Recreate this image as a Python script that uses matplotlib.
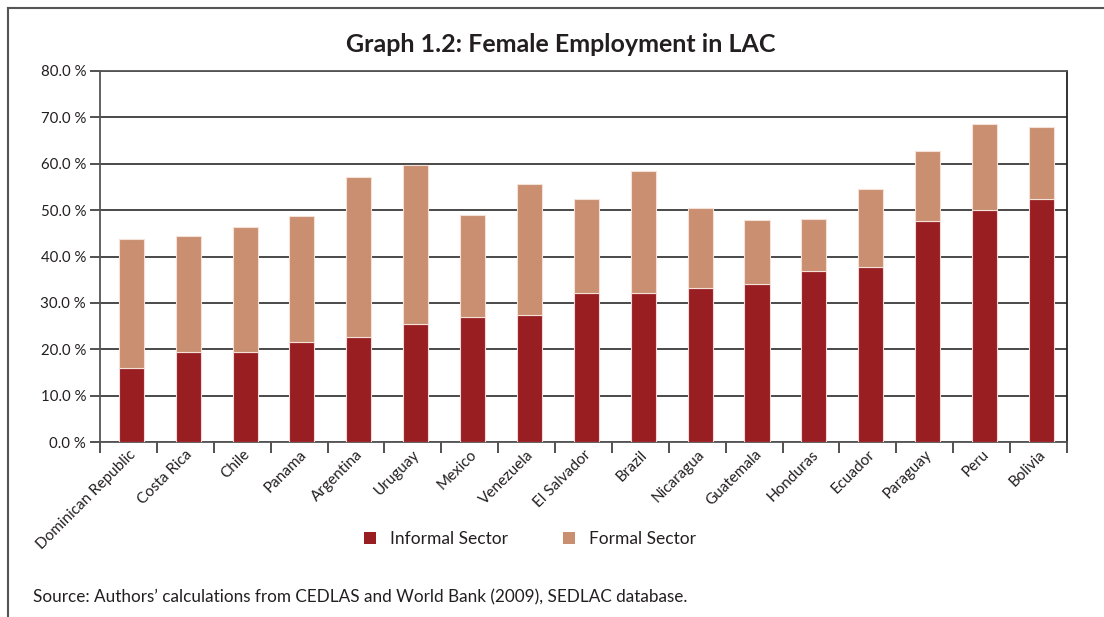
import matplotlib.pyplot as plt
from matplotlib.lines import Line2D
from matplotlib.patches import Patch
import matplotlib.transforms as mtransforms

plt.rcParams['font.family'] = ['Lato', 'DejaVu Sans']

# data
countries = ['Dominican Republic', 'Costa Rica', 'Chile', 'Panama', 'Argentina',
             'Uruguay', 'Mexico', 'Venezuela', 'El Salvador', 'Brazil',
             'Nicaragua', 'Guatemala', 'Honduras', 'Ecuador', 'Paraguay',
             'Peru', 'Bolivia']
informal = [16.0, 19.5, 19.5, 21.5, 22.7, 25.4, 26.9, 27.4, 32.2, 32.1,
            33.2, 34.1, 36.8, 37.7, 47.6, 50.0, 52.5]
total = [43.8, 44.5, 46.3, 48.7, 57.2, 59.8, 48.9, 55.6, 52.5, 58.4,
         50.5, 47.9, 48.1, 54.6, 62.7, 68.6, 68.0]
formal = [t - i for t, i in zip(total, informal)]
yticks = [0, 10, 20, 30, 40, 50, 60, 70, 80]

c_inf = '#981E22'
c_for = '#C98F70'
txt = '#231F20'

fig = plt.figure(figsize=(11.04, 6.17), dpi=100)
ax = fig.add_axes([100 / 1104, 1 - 442 / 617, 967 / 1104, 371 / 617])

x = list(range(len(countries)))
ax.bar([i + 0.05 for i in x], informal, width=0.44, color=c_inf,
       edgecolor='#F2D9D9', linewidth=0.8, zorder=3, label='Informal Sector')
ax.bar([i + 0.05 for i in x], formal, bottom=informal, width=0.44, color=c_for,
       edgecolor='#F5E1D8', linewidth=0.8, zorder=3, label='Formal Sector')

ax.set_xlim(-0.5, len(countries) - 0.5)
ax.set_ylim(0, 80)
ax.set_yticks(yticks)
ax.set_yticklabels(['%.1f %%' % v for v in yticks], fontsize=10.8, color=txt)
ax.yaxis.grid(True, color='#2a2a2a', linewidth=1.2, zorder=0)
ax.set_axisbelow(True)

ax.set_xticks(x)
ax.set_xticklabels(countries, rotation=45, ha='right', rotation_mode='anchor',
                   fontsize=11, color=txt)
offset = mtransforms.ScaledTranslation(17 / 100, -2 / 100, fig.dpi_scale_trans)
for lab in ax.get_xticklabels():
    lab.set_transform(lab.get_transform() + offset)
ax.tick_params(axis='x', which='major', length=0, pad=4)
ax.set_xticks([i - 0.5 for i in range(len(countries) + 1)], minor=True)
ax.tick_params(axis='x', which='minor', length=8, width=1.2, color='#333333', direction='out')
ax.tick_params(axis='y', length=7, width=1.2, color='#333333', direction='out', pad=3)

for s in ['left', 'top', 'bottom']:
    ax.spines[s].set_color('#555555')
    ax.spines[s].set_linewidth(1.3)
ax.spines['right'].set_color('#222222')
ax.spines['right'].set_linewidth(1.3)

fig.text(561 / 1104, 1 - 44 / 617, 'Graph 1.2: Female Employment in LAC',
         ha='center', va='center', fontsize=18, fontweight='bold', color=txt)

handles = [Patch(facecolor=c_inf, edgecolor='none'), Patch(facecolor=c_for, edgecolor='none')]
fig.legend(handles, ['Informal Sector', 'Formal Sector'], loc='center',
           bbox_to_anchor=(530 / 1104, 1 - 539 / 617), ncol=2, frameon=False,
           fontsize=12.5, handlelength=0.7, handleheight=0.7, handletextpad=0.8,
           columnspacing=3.2, labelcolor=txt)

fig.text(33 / 1104, 1 - 597 / 617,
         'Source: Authors\u2019 calculations from CEDLAS and World Bank (2009), SEDLAC database.',
         ha='left', va='center', fontsize=12.3, color=txt)

# outer frame (left and top edges)
fig.add_artist(Line2D([8 / 1104, 8 / 1104], [0, 1 - 8 / 617], transform=fig.transFigure,
                      color='#555555', linewidth=1.5))
fig.add_artist(Line2D([8 / 1104, 1], [1 - 8 / 617, 1 - 8 / 617], transform=fig.transFigure,
                      color='#555555', linewidth=1.5))

fig.savefig('out.png', dpi=100)
